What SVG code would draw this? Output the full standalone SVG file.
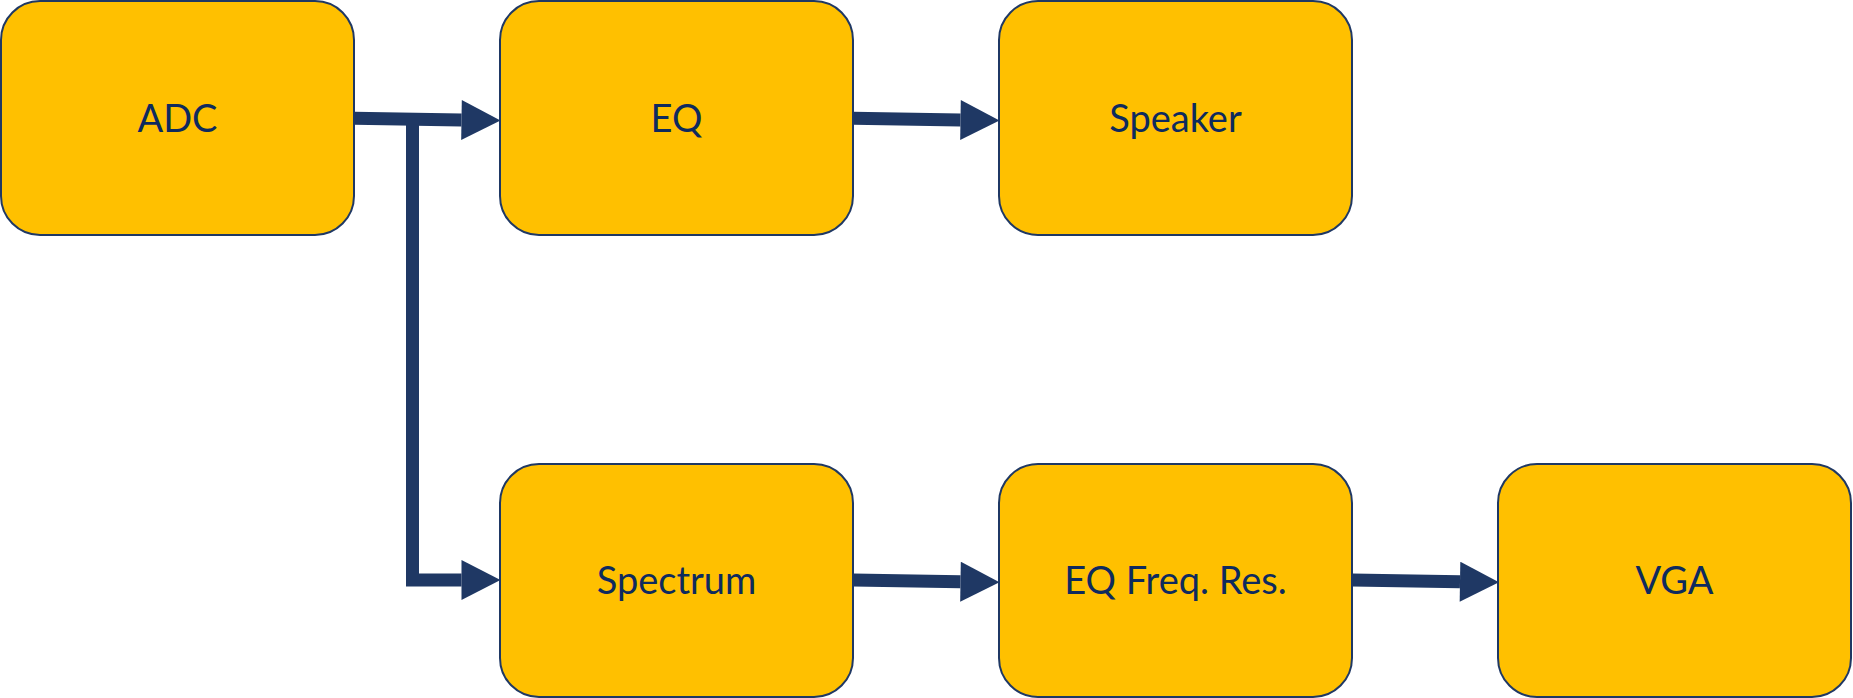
<svg xmlns="http://www.w3.org/2000/svg" width="1853" height="698" viewBox="0 0 1853 698">
<style>
.box{fill:#FFC000;stroke:#1F3864;stroke-width:2}
.lbl{font-family:Lato,"Open Sans","Liberation Sans",sans-serif;font-size:38px;fill:#0E2A5E;text-anchor:middle}
.con{fill:none;stroke:#1F3864;stroke-width:13;stroke-linejoin:miter;stroke-linecap:butt}
</style>
<defs>
<marker id="ah" markerUnits="userSpaceOnUse" markerWidth="40" markerHeight="40" refX="0" refY="19.5" orient="auto" viewBox="0 0 38 39">
<path d="M0,0 L38,19.5 L0,39 Z" fill="#1F3864"/>
</marker>
</defs>
<rect width="1853" height="698" fill="#FFFFFF"/>
<g id="connectors">
<path class="con" d="M354,118.3 L461.5,120" marker-end="url(#ah)"/>
<path class="con" d="M412.5,119 V580 H461.5" marker-end="url(#ah)"/>
<path class="con" d="M853,118.3 L960.5,120" marker-end="url(#ah)"/>
<path class="con" d="M853,580 L960.5,581.7" marker-end="url(#ah)"/>
<path class="con" d="M1352,580 L1460,581.7" marker-end="url(#ah)"/>
</g>
<g id="adc"><rect class="box" x="1" y="1" width="353" height="234" rx="39"/><text class="lbl" x="177.5" y="131.5">ADC</text></g>
<g id="eq"><rect class="box" x="500" y="1" width="353" height="234" rx="39"/><text class="lbl" x="676.5" y="131.5">EQ</text></g>
<g id="speaker"><rect class="box" x="999" y="1" width="353" height="234" rx="39"/><text class="lbl" x="1175.5" y="131.5">Speaker</text></g>
<g id="spectrum"><rect class="box" x="500" y="464" width="353" height="233" rx="39"/><text class="lbl" x="676.5" y="594">Spectrum</text></g>
<g id="eqfreq"><rect class="box" x="999" y="464" width="353" height="233" rx="39"/><text class="lbl" x="1175.5" y="594">EQ Freq. Res.</text></g>
<g id="vga"><rect class="box" x="1498" y="464" width="353" height="233" rx="39"/><text class="lbl" x="1674.5" y="594">VGA</text></g>
</svg>
